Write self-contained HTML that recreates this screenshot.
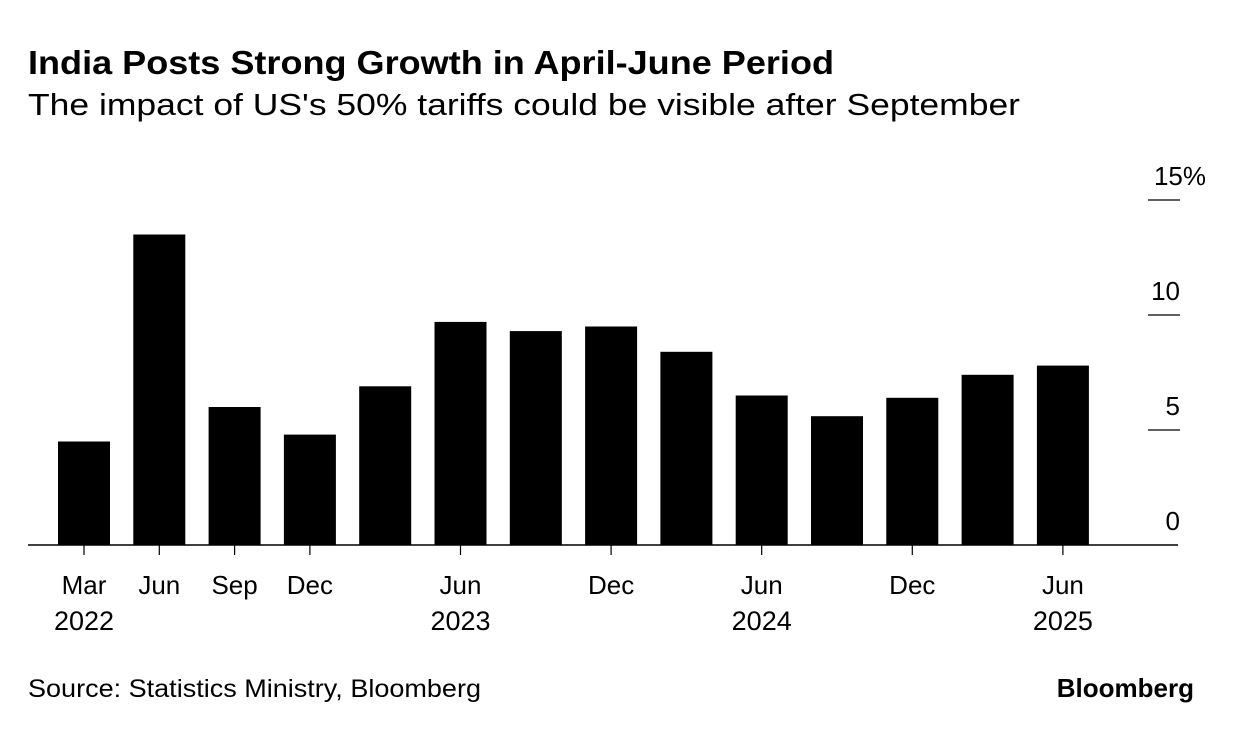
<!DOCTYPE html>
<html><head><meta charset="utf-8"><style>
body{margin:0;background:#fff;font-family:"Liberation Sans",sans-serif;}
svg text{font-family:"Liberation Sans",sans-serif;fill:#000;}
</style></head><body>
<svg id="chart" width="1233" height="730" xmlns="http://www.w3.org/2000/svg">
<text x="28" y="74" font-size="33" font-weight="bold" textLength="806" lengthAdjust="spacingAndGlyphs">India Posts Strong Growth in April-June Period</text>
<text x="28" y="115" font-size="31" textLength="992" lengthAdjust="spacingAndGlyphs">The impact of US's 50% tariffs could be visible after September</text>
<text x="28" y="697" font-size="25" textLength="453" lengthAdjust="spacingAndGlyphs">Source: Statistics Ministry, Bloomberg</text>
<text x="1194" y="697" font-size="26" font-weight="bold" text-anchor="end">Bloomberg</text>
<g id="bars"></g><g id="axes"></g>
</svg>
<script>
const categories=["Mar 2022","Jun 2022","Sep 2022","Dec 2022","Mar 2023","Jun 2023","Sep 2023","Dec 2023","Mar 2024","Jun 2024","Sep 2024","Dec 2024","Mar 2025","Jun 2025"];
const growth=[4.5,13.5,6.0,4.8,6.9,9.7,9.3,9.5,8.4,6.5,5.6,6.4,7.4,7.8];
const yTicks=[0,5,10,15];
const yTickLabels=["0","5","10","15%"];
const xLabels=[["Mar","2022"],["Jun",""],["Sep",""],["Dec",""],null,["Jun","2023"],null,["Dec",""],null,["Jun","2024"],null,["Dec",""],null,["Jun","2025"]];
const NS="http://www.w3.org/2000/svg";
const y0=545,ppu=23,x0=84,step=75.3,bw=52;
const yS=v=>y0-v*ppu, xS=i=>x0+i*step;
const bars=document.getElementById('bars'),axes=document.getElementById('axes');
function mk(tag,attrs,parent){const e=document.createElementNS(NS,tag);for(const k in attrs)e.setAttribute(k,attrs[k]);parent.appendChild(e);return e;}
growth.forEach((v,i)=>{
  const r=mk('rect',{x:xS(i)-bw/2,y:yS(v),width:bw,height:y0-yS(v),fill:'#000'},bars);
  
  
});
const ax=mk('line',{x1:28,x2:1178,y1:y0,y2:y0,stroke:'#000','stroke-width':1.5},axes);


yTicks.forEach((t,i)=>{
  if(t>0){const l=mk('line',{x1:1148,x2:1180,y1:yS(t),y2:yS(t),stroke:'#000','stroke-width':1.2},axes);
  
  }
  const tx=mk('text',{x:1180,y:yS(t)-15,'font-size':26,'text-anchor':'end'},axes);
  if(t===15){tx.setAttribute('x',1206);}
  tx.textContent=yTickLabels[i];
  
  
});
xLabels.forEach((lb,i)=>{
  if(!lb)return;
  const l=mk('line',{x1:xS(i),x2:xS(i),y1:y0,y2:y0+10,stroke:'#000','stroke-width':1.2},axes);
  
  
  const t=mk('text',{x:xS(i),y:594,'font-size':26,'text-anchor':'middle'},axes);
  t.textContent=lb[0];
  
  
  if(lb[1]){const t2=mk('text',{x:xS(i),y:630,'font-size':27,'text-anchor':'middle'},axes);
  t2.textContent=lb[1];
  
  }
});
</script>
</body></html>
